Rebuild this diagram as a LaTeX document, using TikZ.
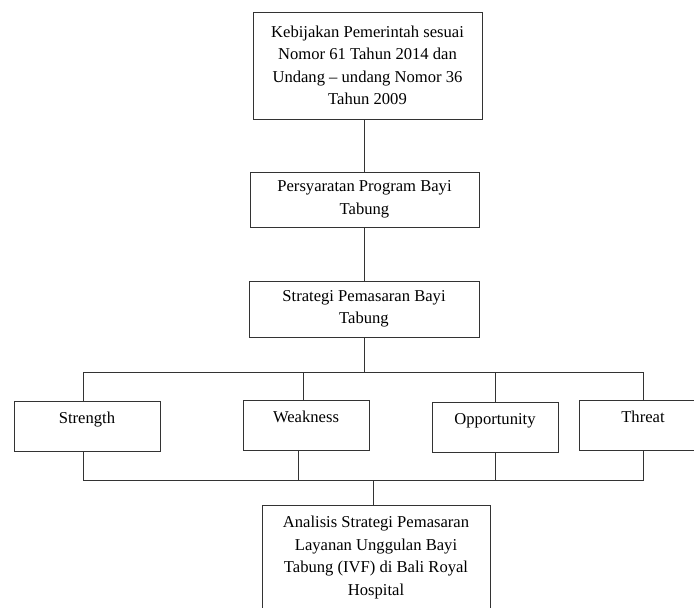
\documentclass[tikz,border=0pt]{standalone}
\usepackage{fontspec}
\setmainfont{Liberation Serif}
\usepackage{tikz}
\usetikzlibrary{positioning,calc}

\begin{document}
\begin{tikzpicture}[
  x=1pt, y=-1pt,
  font=\fontsize{16.6}{22.5}\selectfont,
  box/.style={
    draw=black!80, line width=0.9pt, fill=white,
    minimum width=229pt, align=center, inner sep=0pt},
  swot/.style={
    draw=black!80, line width=0.9pt, fill=white,
    minimum width=#1, minimum height=50pt, align=center,
    inner xsep=0pt, inner ysep=4pt, text height=18pt, text depth=24pt},
  link/.style={draw=black!80, line width=0.9pt}
]

% ---- page frame (reference is 694 x 608) ----
\useasboundingbox (0,0) rectangle (694,608);
\clip (0,0) rectangle (694,608);

% ================= main column =================
\node[box, minimum height=107pt] (policy) at (367.5,65.5)
  {Kebijakan Pemerintah sesuai\\ Nomor 61 Tahun 2014 dan\\ Undang – undang Nomor 36\\ Tahun 2009};
\node[box, minimum height=55pt] (syarat) at (364.5,199.5)
  {Persyaratan Program Bayi\\ Tabung};
\node[box, minimum width=230pt, minimum height=56pt] (strat) at (364,309)
  {Strategi Pemasaran Bayi\\ Tabung};

% ================= SWOT row =================
\node[swot=146pt] (strength) at (87,426.5)  {Strength};
\node[swot=126pt] (weak)     at (306,425)   {Weakness};
\node[swot=126pt] (opp)      at (495,427.5) {Opportunity};
\node[swot=128pt] (threat)   at (643,425)   {Threat};

% ================= result =================
\node[box, minimum width=228pt, minimum height=105pt] (hasil) at (376,557.5)
  {Analisis Strategi Pemasaran\\ Layanan Unggulan Bayi\\ Tabung (IVF) di Bali Royal\\ Hospital};

% ================= vertical links =================
\draw[link] (policy.south -| syarat.north) -- (syarat.north);
\draw[link] (syarat.south) -- (syarat.south |- strat.north);

% ================= upper bus =================
\draw[link] (strat.south) -- ++(0,35) coordinate (busA);
\draw[link] ([xshift=-4pt]strength.north) -- ([xshift=-4pt]strength.north |- busA)
  -- (threat.north |- busA) -- (threat.north);
\draw[link] ([xshift=-3pt]weak.north) -- ([xshift=-3pt]weak.north |- busA);
\draw[link] (opp.north) -- (opp.north |- busA);

% ================= lower bus =================
\draw[link] ([xshift=-3pt]hasil.north) -- ++(0,-24) coordinate (busB);
\draw[link] ([xshift=-4pt]strength.south) -- ([xshift=-4pt]strength.south |- busB)
  -- (threat.south |- busB) -- (threat.south);
\draw[link] ([xshift=-8pt]weak.south) -- ([xshift=-8pt]weak.south |- busB);
\draw[link] (opp.south) -- (opp.south |- busB);

\end{tikzpicture}
\end{document}
